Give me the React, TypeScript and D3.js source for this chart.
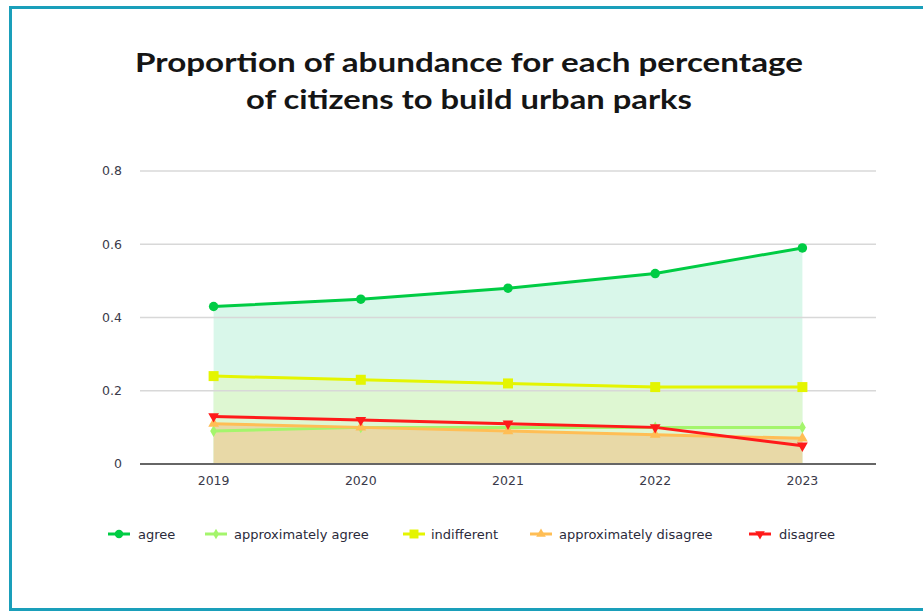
import React from "react";
import * as d3 from "d3";

const years = ["2019", "2020", "2021", "2022", "2023"];
const agree = [0.43, 0.45, 0.48, 0.52, 0.59];
const approxAgree = [0.09, 0.1, 0.1, 0.1, 0.1];
const indifferent = [0.24, 0.23, 0.22, 0.21, 0.21];
const approxDisagree = [0.11, 0.1, 0.09, 0.08, 0.07];
const disagree = [0.13, 0.12, 0.11, 0.1, 0.05];
const yTicks = [0, 0.2, 0.4, 0.6, 0.8];
const titleLines = ["Proportion of abundance for each percentage", "of citizens to build urban parks"];

type Series = { name: string; values: number[]; color: string; symbol: d3.SymbolType; size: number; fill: string | null };

const series: Series[] = [
  { name: "agree", values: agree, color: "#00cc44", symbol: d3.symbolCircle, size: 70, fill: "#d9f7ea" },
  { name: "approximately agree", values: approxAgree, color: "#a4f56c", symbol: d3.symbolDiamond, size: 40, fill: null },
  { name: "indifferent", values: indifferent, color: "#e4f500", symbol: d3.symbolSquare, size: 100, fill: "#def7d2" },
  { name: "approximately disagree", values: approxDisagree, color: "#ffbe55", symbol: d3.symbolTriangle, size: 50, fill: "#e8d9a7" },
  { name: "disagree", values: disagree, color: "#ff1a1a", symbol: d3.symbolTriangle, size: 50, fill: null },
];

const W = 923, H = 612;
const plotLeft = 140, plotRight = 876, plotTop = 171, plotBottom = 464;
const smallFont = "'DejaVu Sans', sans-serif";

export default function App() {
  const x = d3.scalePoint<string>().domain(years).range([plotLeft, plotRight]).padding(0.5);
  const y = d3.scaleLinear().domain([0, 0.8]).range([plotBottom, plotTop]);
  const line = d3.line<number>().x((_, i) => x(years[i])!).y((d) => y(d));
  const area = d3.area<number>().x((_, i) => x(years[i])!).y0(y(0)).y1((d) => y(d));

  const legendItems = [
    { s: series[0], mx: 119, tx: 138 },
    { s: series[1], mx: 216, tx: 234 },
    { s: series[2], mx: 414, tx: 431 },
    { s: series[3], mx: 541, tx: 559 },
    { s: series[4], mx: 760, tx: 779 },
  ];
  const legendY = 534;

  const marker = (s: Series, cx: number, cy: number, key: string | number, scale = 1) => {
    const path = d3.symbol().type(s.symbol).size(s.size * scale)()!;
    const rot = s.name === "disagree" ? 180 : 0;
    return <path key={key} d={path} transform={`translate(${cx},${cy}) rotate(${rot})`} fill={s.color} />;
  };

  return (
    <svg width={W} height={H} style={{ position: "absolute", left: 0, top: 0, background: "#fff" }} fontFamily="Lato, 'Open Sans', sans-serif">
      <rect x={0} y={0} width={W} height={H} fill="#fff" />
      <rect x={10.5} y={7.5} width={1000} height={602} fill="none" stroke="#1a9fba" strokeWidth={3} />
      {titleLines.map((t, i) => (
        <text key={i} x={469} y={72 + i * 37} textAnchor="middle" fontSize={27} fontWeight={700} fill="#151515"
          textLength={i === 0 ? 668 : 446} lengthAdjust="spacingAndGlyphs">{t}</text>
      ))}
      {series.filter((s) => s.fill).map((s) => (
        <path key={s.name} d={area(s.values)!} fill={s.fill!} />
      ))}
      {yTicks.filter((t) => t > 0).map((t) => (
        <line key={t} x1={plotLeft} x2={plotRight} y1={y(t)} y2={y(t)} stroke="#d8d8d8" strokeWidth={1.5} />
      ))}
      {yTicks.map((t) => (
        <text key={"l" + t} x={122} y={y(t)} dy="0.35em" textAnchor="end" fontSize={12.5} fontFamily={smallFont} fill="#3a3a4a">{t === 0 ? "0" : t.toString()}</text>
      ))}
      <line x1={plotLeft} x2={plotRight} y1={plotBottom} y2={plotBottom} stroke="#666" strokeWidth={2} />
      {years.map((yr) => (
        <text key={yr} x={x(yr)!} y={485} textAnchor="middle" fontSize={12.5} fontFamily={smallFont} fill="#3a3a4a">{yr}</text>
      ))}
      {series.map((s) => (
        <path key={s.name} d={line(s.values)!} fill="none" stroke={s.color} strokeWidth={3} />
      ))}
      {series.map((s) => (
        <g key={"m" + s.name}>{s.values.map((v, i) => marker(s, x(years[i])!, y(v), i))}</g>
      ))}
      {legendItems.map(({ s, mx, tx }) => (
        <g key={"lg" + s.name}>
          <line x1={mx - 11} x2={mx + 11} y1={legendY} y2={legendY} stroke={s.color} strokeWidth={3} />
          {marker(s, mx, legendY, "lm", 0.8)}
          <text x={tx} y={legendY} dy="0.35em" fontSize={13} fontFamily={smallFont} fill="#2a2a3a">{s.name}</text>
        </g>
      ))}
    </svg>
  );
}
